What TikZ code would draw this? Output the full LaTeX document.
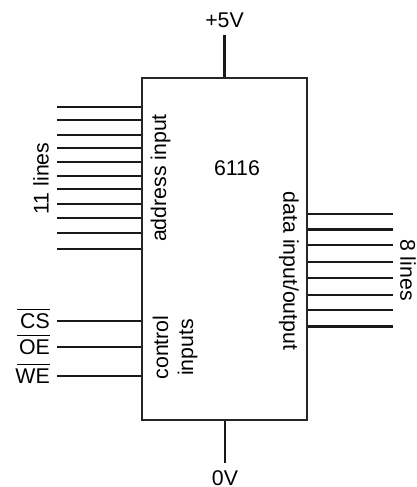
\documentclass[tikz,border=0pt]{standalone}
\usepackage{fontspec}
\setmainfont{Liberation Sans}
\usepackage{tikz}
\usetikzlibrary{positioning,calc}

\tikzset{
  lbl/.style={inner sep=0pt, font=\fontsize{21.3}{25}\selectfont},
  sidelbl/.style={lbl, rotate=90, align=center},
  wire/.style={line width=1.8pt, draw=black!90},
  thickwire/.style={line width=2.8pt, draw=black!90}
}

\begin{document}
\begin{tikzpicture}[x=1pt,y=-1pt]
        \useasboundingbox (0,0) rectangle (417,487);
        % Chip
        \node[draw=black!85, line width=1.8pt, minimum width=165pt, minimum height=342pt, inner sep=0pt]
          (chip) at (224.5,249) {};
        \node[lbl] (num) at (237,168) {6116};
        % Supply
        \node[lbl] (vcc) at (224.5,20) {+5V};
        \node[lbl] (gnd) at (225,478) {0V};
        \coordinate (vcctop) at (224.5,35);
        \coordinate (gndend) at (225,463);
        \draw[line width=2.8pt, draw=black!90] (vcctop) -- (vcctop |- chip.north);
        \draw[line width=2pt, draw=black!90] (gndend) -- (gndend |- chip.south);
        % Address lines
        \foreach \i/\y in {1/106.7,2/119.7,3/134.7,4/147.7,5/161.7,6/176,7/189,8/204,9/217.7,10/233,11/249}{
          \coordinate (addr\i) at (57,\y);
          \draw[wire] (addr\i) -- (addr\i -| chip.west);
        }
        \node[sidelbl] (addrcount) at (41,178.5) {11 lines};
        \node[sidelbl] (addrlbl) at (160.5,178) {address input};
        % Control lines
        \foreach \i/\y/\name/\sty in {1/321/CS/wire,2/347/OE/thickwire,3/376/WE/wire}{
          \coordinate (ctl\i) at (57,\y);
          \draw[\sty] (ctl\i) -- (ctl\i -| chip.west);
          \node[lbl, anchor=base east] (ctlname\i) at (50,\y+7) {$\overline{\makebox[33pt][r]{\rule{0pt}{17pt}\name}}$};
        }
        \node[sidelbl] (ctllbl) at (175,347.5) {control\\inputs};
        % Data lines
        \foreach \i/\y/\sty in {1/213.7/wire,2/229.3/thickwire,3/245/wire,4/262/wire,5/278/wire,6/295/wire,7/310/wire,8/326.3/thickwire}{
          \coordinate (data\i) at (393,\y);
          \draw[\sty] (data\i) -- (data\i -| chip.east);
        }
        \node[lbl, rotate=-90] (datalbl) at (289,271) {data input/output};
        \node[lbl, rotate=-90] (datacount) at (408,270) {8 lines};
      \end{tikzpicture}
\end{document}
